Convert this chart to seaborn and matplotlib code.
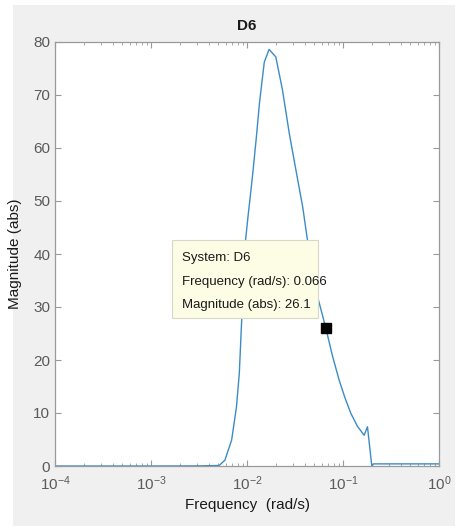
import numpy as np
import pandas as pd
import matplotlib
matplotlib.use("Agg")
import matplotlib.pyplot as plt
from matplotlib.patches import Rectangle
from matplotlib.ticker import LogLocator, FixedLocator
import seaborn as sns

# ---- data ----
log_freq = [-4.0, -3.0, -2.5, -2.29, -2.23, -2.16, -2.11, -2.08, -2.06, -2.015,
            -1.99, -1.97, -1.94, -1.90, -1.87, -1.82, -1.77, -1.70, -1.63,
            -1.56, -1.49, -1.42, -1.37, -1.28, -1.18, -1.11, -1.04, -0.98,
            -0.92, -0.85, -0.78, -0.745, -0.70, -0.68, -0.5, 0.0]
magnitude = [0.0, 0.0, 0.02, 0.1, 1.1, 4.9, 11.1, 17.5, 25.7, 42.6,
             47.0, 50.2, 55.2, 62.5, 68.5, 76.2, 78.6, 77.2, 70.9,
             62.8, 55.8, 48.9, 42.6, 33.0, 26.1, 20.8, 16.2, 12.9,
             10.0, 7.5, 5.8, 7.4, 0.0, 0.4, 0.4, 0.4]
frequency = [10 ** v for v in log_freq]
datatip_freq = 0.066
datatip_mag = 26.1
datatip_lines = ["System: D6", "Frequency (rad/s): 0.066", "Magnitude (abs): 26.1"]
y_ticks = [0, 10, 20, 30, 40, 50, 60, 70, 80]

df = pd.DataFrame({"Frequency": frequency, "Magnitude": magnitude})

sns.set_style("white")
plt.rcParams["font.family"] = ["Liberation Sans", "DejaVu Sans"]
plt.rcParams["mathtext.fontset"] = "custom"
plt.rcParams["mathtext.rm"] = "Liberation Sans"

fig = plt.figure(figsize=(4.73, 5.28), dpi=100, facecolor="white")
fig.patches.append(Rectangle((13 / 473, 1 - 526 / 528), (455 - 13) / 473, (526 - 5) / 528,
                             transform=fig.transFigure, facecolor="#f0f0f0",
                             edgecolor="none", zorder=-10))
ax = fig.add_axes([55 / 473, 1 - 466 / 528, (439 - 55) / 473, (466 - 42) / 528])
ax.set_facecolor("white")

line_color = "#3a8cc6"
sns.lineplot(data=df, x="Frequency", y="Magnitude", ax=ax, color=line_color,
             linewidth=1.0, sort=False)
ax.set_xscale("log")
ax.set_xlim(1e-4, 1e0)
ax.set_ylim(0, 80)

ax.xaxis.set_major_locator(LogLocator(base=10, numticks=10))
ax.xaxis.set_minor_locator(LogLocator(base=10, subs=np.arange(2, 10), numticks=100))
ax.yaxis.set_major_locator(FixedLocator(y_ticks))

tick_gray = "#5a5a5a"
spine_gray = "#9a9a9a"
for s in ax.spines.values():
    s.set_color(spine_gray)
    s.set_linewidth(0.9)
    s.set_visible(True)
ax.tick_params(axis="both", which="major", direction="in", length=4, width=0.8,
               color=spine_gray, labelcolor=tick_gray, labelsize=11,
               top=True, right=True, bottom=True, left=True)
ax.tick_params(axis="x", which="minor", direction="in", length=2.5, width=0.6,
               color=spine_gray, top=True, bottom=True)
ax.tick_params(axis="x", which="major", pad=6)

ax.set_xlabel("Frequency  (rad/s)", fontsize=11, color="#1a1a1a", labelpad=4)
ax.set_ylabel("Magnitude (abs)", fontsize=11, color="#1a1a1a", labelpad=8)
ax.set_title("D6", fontsize=11, fontweight="bold", color="#1a1a1a", pad=9)

# data tip
ax.plot([datatip_freq], [datatip_mag], marker="s", markersize=6.5, color="black",
        linestyle="none", zorder=6)
ax.add_patch(Rectangle((0.305, 0.349), 0.38, 0.184, transform=ax.transAxes,
                       facecolor="#fdfde6", edgecolor="#d8d8c8", linewidth=0.8, zorder=5))
for i, t in enumerate(datatip_lines):
    ax.text(0.331, 0.4906 - i * 0.0555, t, transform=ax.transAxes, fontsize=9.5,
            color="#1a1a1a", va="center", ha="left", zorder=7)

fig.savefig("out.png", dpi=100, facecolor="white")
